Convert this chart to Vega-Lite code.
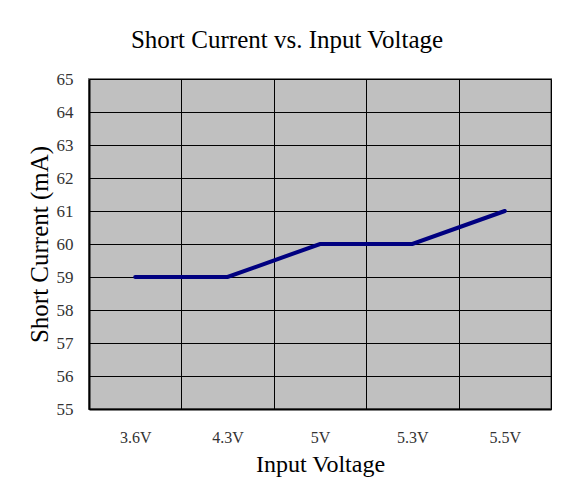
{
  "$schema": "https://vega.github.io/schema/vega-lite/v6.json",
  "autosize": {"type": "none"},
  "padding": {"left": 89, "top": 79, "right": 13, "bottom": 74},
  "width": 462,
  "height": 330,
  "background": "white",
  "title": {
    "text": "Short Current vs. Input Voltage",
    "font": "Liberation Serif",
    "fontSize": 25,
    "fontWeight": "normal",
    "color": "black",
    "anchor": "middle",
    "baseline": "alphabetic",
    "offset": -3,
    "dx": -33
  },
  "data": {
    "values": [
      {"voltage": "3.6V", "current": 59},
      {"voltage": "4.3V", "current": 59},
      {"voltage": "5V", "current": 60},
      {"voltage": "5.3V", "current": 60},
      {"voltage": "5.5V", "current": 61}
    ]
  },
  "mark": {"type": "line", "color": "#000080", "strokeWidth": 4, "strokeCap": "round"},
  "encoding": {
    "x": {
      "field": "voltage",
      "type": "nominal",
      "sort": ["3.6V", "4.3V", "5V", "5.3V", "5.5V"],
      "scale": {"paddingInner": 0, "paddingOuter": 0},
      "axis": {
        "title": "Input Voltage",
        "tickBand": "extent",
        "grid": true,
        "gridColor": "black",
        "gridWidth": 1,
        "gridOpacity": 1,
        "ticks": false,
        "labelAngle": 0,
        "labelPadding": 20,
        "labelFont": "Liberation Serif",
        "labelFontSize": 16,
        "labelColor": "#333333",
        "domainColor": "black",
        "domainWidth": 2,
        "titleFont": "Liberation Serif",
        "titleFontSize": 24,
        "titleFontWeight": "normal",
        "titleColor": "black",
        "titlePadding": 7
      }
    },
    "y": {
      "field": "current",
      "type": "quantitative",
      "scale": {"domain": [55, 65], "nice": false, "zero": false},
      "axis": {
        "title": "Short Current (mA)",
        "values": [55, 56, 57, 58, 59, 60, 61, 62, 63, 64, 65],
        "grid": true,
        "gridColor": "black",
        "gridWidth": 1,
        "gridOpacity": 1,
        "ticks": false,
        "labelPadding": 16,
        "labelFont": "Liberation Serif",
        "labelFontSize": 17,
        "labelColor": "#333333",
        "domainColor": "black",
        "domainWidth": 2,
        "titleFont": "Liberation Serif",
        "titleFontSize": 25,
        "titleFontWeight": "normal",
        "titleColor": "black",
        "titlePadding": 4
      }
    }
  },
  "config": {
    "view": {"fill": "#C0C0C0", "stroke": "#808080", "strokeWidth": 2}
  }
}
